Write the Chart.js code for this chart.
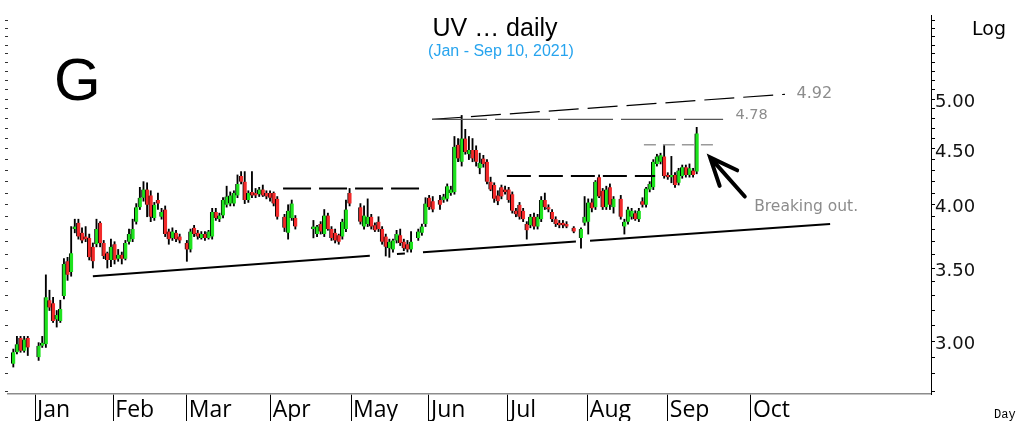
<!DOCTYPE html>
<html>
<head>
<meta charset="utf-8">
<title>UV daily</title>
<script src="https://cdn.jsdelivr.net/npm/chart.js@4.4.1/dist/chart.umd.min.js"></script>
<style>
  html, body { margin: 0; padding: 0; background: #fff; }
  #wrap { width: 1019px; height: 421px; position: relative; }
</style>
</head>
<body>
<div id="wrap"><canvas id="chart"></canvas></div>
<script>
// One slot per trading day, late Dec 2020 to Sep 10 2021 (null = no bar)
const opens = [
  2.86, 2.93, 3.02, 2.94, 3.02, null, null, 2.90, 2.97, 2.98,
  3.27, 3.25, 3.14, 3.13, 3.30, 3.55, 3.47, 3.80, 3.85, 3.77,
  3.74, 3.73, 3.66, 3.68, 3.85, 3.69, 3.61, 3.56, 3.68, 3.57,
  3.60, 3.57, 3.70, 3.72, 3.86, 3.98, 4.06, 4.13, 4.08, 3.89,
  4.04, 3.90, 3.96, 3.78, 3.73, 3.77, 3.74, null, 3.69, 3.64,
  3.81, 3.77, 3.73, 3.76, 3.73, 3.74, 3.94, 3.88, 3.91, 4.00,
  4.01, 4.01, 4.08, 4.25, 4.20, 4.04, 4.11, 4.10, 4.09, 4.13,
  4.10, 4.10, 4.10, 4.05, null, 3.90, 3.77, 3.89, 3.89, null,
  null, null, null, 3.80, 3.76, 3.84, 3.76, 3.91, 3.80, 3.77,
  3.75, 3.74, 3.80, 4.10, null, null, 3.98, 3.82, 3.84, 3.90,
  3.83, 3.86, 3.80, 3.74, 3.65, 3.64, 3.71, 3.75, 3.70, 3.68,
  3.64, null, 3.73, 3.77, 3.84, 4.06, 4.03, null, 4.04, 4.04,
  4.05, 4.10, 4.11, 4.54, 4.38, 4.60, 4.45, 4.49, 4.49, 4.32,
  4.41, 4.38, 4.20, 4.17, 4.08, 4.15, 4.13, 4.13, 4.09, 3.95,
  4.00, 3.95, 3.84, 3.83, 3.90, 3.82, 3.88, 4.04, 3.98, 3.94,
  3.88, 3.85, 3.85, 3.84, null, 3.81, null, 3.73, 3.85, 3.86,
  4.02, 3.98, 4.24, 4.12, 3.98, 4.15, 3.98, null, 4.05, 3.82,
  3.86, 3.90, 3.93, 3.88, 4.03, 4.00, 4.13, 4.15, 4.36, 4.38,
  4.43, 4.26, 4.24, 4.26, 4.19, 4.25, 4.33, 4.26, 4.30, 4.29
];
const highs = [
  2.95, 3.03, 3.03, 3.03, 3.03, null, null, 2.99, 3.03, 3.45,
  3.34, 3.29, 3.20, 3.27, 3.57, 3.58, 3.82, 3.88, 3.88, 3.81,
  3.82, 3.76, 3.69, 3.88, 3.86, 3.71, 3.62, 3.72, 3.70, 3.64,
  3.62, 3.71, 3.80, 3.88, 4.01, 4.15, 4.20, 4.19, 4.12, 4.02,
  4.10, 3.97, 3.99, 3.80, 3.81, 3.79, 3.76, null, 3.71, 3.80,
  3.83, 3.79, 3.78, 3.78, 3.79, 3.97, 3.97, 3.93, 4.06, 4.16,
  4.11, 4.12, 4.26, 4.29, 4.29, 4.12, 4.29, 4.14, 4.15, 4.17,
  4.12, 4.12, 4.11, 4.07, null, 3.92, 4.00, 4.04, 3.91, null,
  null, null, null, 3.87, 3.83, 3.86, 3.96, 3.93, 3.82, 3.80,
  3.76, 3.88, 4.04, 4.14, null, null, 4.01, 3.99, 4.05, 3.92,
  3.85, 3.90, 3.82, 3.76, 3.72, 3.72, 3.79, 3.80, 3.72, 3.71,
  3.78, null, 3.80, 3.84, 4.06, 4.08, 4.07, null, 4.08, 4.09,
  4.18, 4.16, 4.62, 4.60, 4.83, 4.69, 4.62, 4.60, 4.53, 4.46,
  4.44, 4.40, 4.24, 4.19, 4.12, 4.17, 4.16, 4.15, 4.11, 3.97,
  4.02, 3.97, 3.86, 3.92, 3.93, 3.92, 4.07, 4.10, 4.00, 3.96,
  3.90, 3.87, 3.87, 3.86, null, 3.82, null, 3.81, 4.07, 4.05,
  4.05, 4.21, 4.26, 4.14, 4.16, 4.18, 4.07, null, 4.08, 3.88,
  3.98, 3.97, 3.95, 3.97, 4.06, 4.15, 4.20, 4.40, 4.45, 4.46,
  4.54, 4.28, 4.43, 4.28, 4.32, 4.35, 4.35, 4.36, 4.32, 4.71
];
const lows = [
  2.84, 2.92, 2.93, 2.93, 2.91, null, null, 2.88, 2.96, 2.96,
  3.20, 3.12, 3.09, 3.12, 3.28, 3.41, 3.44, 3.77, 3.72, 3.69,
  3.70, 3.56, 3.50, 3.66, 3.66, 3.57, 3.50, 3.51, 3.53, 3.55,
  3.53, 3.56, 3.68, 3.70, 3.84, 3.96, 4.03, 3.90, 3.86, 3.87,
  3.96, 3.88, 3.74, 3.68, 3.71, 3.70, 3.69, null, 3.55, 3.62,
  3.74, 3.72, 3.72, 3.71, 3.72, 3.72, 3.87, 3.86, 3.89, 3.98,
  3.99, 3.99, 4.06, 4.18, 4.01, 4.02, 4.06, 4.06, 4.07, 4.07,
  4.05, 4.03, 3.99, 3.88, null, 3.78, 3.72, 3.87, 3.80, null,
  null, null, null, 3.73, 3.74, 3.76, 3.74, 3.79, 3.71, 3.69,
  3.68, 3.72, 3.78, 3.99, null, null, 3.84, 3.80, 3.82, 3.80,
  3.78, 3.78, 3.68, 3.59, 3.58, 3.62, 3.69, 3.67, 3.63, 3.62,
  3.62, null, 3.71, 3.75, 3.82, 3.96, 3.94, null, 3.96, 4.02,
  4.03, 4.08, 4.09, 4.38, 4.34, 4.45, 4.40, 4.38, 4.34, 4.27,
  4.33, 4.18, 4.12, 4.02, 4.00, 4.05, 4.09, 4.02, 3.93, 3.90,
  3.88, 3.86, 3.72, 3.81, 3.80, 3.80, 3.86, 3.96, 3.94, 3.86,
  3.82, 3.81, 3.81, 3.81, null, 3.77, null, 3.65, 3.83, 3.76,
  3.94, 3.96, 4.06, 3.96, 3.96, 3.96, 3.93, null, 3.88, 3.76,
  3.84, 3.88, 3.87, 3.86, 3.98, 3.98, 4.11, 4.13, 4.34, 4.36,
  4.23, 4.22, 4.19, 4.15, 4.17, 4.23, 4.24, 4.24, 4.24, 4.27
];
const closes = [
  2.93, 2.98, 2.94, 3.01, 2.96, null, null, 2.97, 2.99, 3.29,
  3.22, 3.13, 3.17, 3.21, 3.53, 3.45, 3.61, 3.82, 3.74, 3.71,
  3.72, 3.58, 3.55, 3.80, 3.69, 3.59, 3.56, 3.66, 3.56, 3.60,
  3.57, 3.69, 3.76, 3.80, 3.98, 4.06, 4.13, 4.00, 3.90, 4.00,
  4.01, 3.94, 3.76, 3.72, 3.78, 3.72, 3.71, null, 3.64, 3.78,
  3.76, 3.74, 3.76, 3.73, 3.78, 3.94, 3.89, 3.91, 4.04, 4.07,
  4.08, 4.10, 4.18, 4.20, 4.04, 4.10, 4.08, 4.08, 4.13, 4.08,
  4.07, 4.06, 4.01, 3.90, null, 3.81, 3.95, 4.01, 3.82, null,
  null, null, null, 3.82, 3.82, 3.78, 3.91, 3.80, 3.73, 3.71,
  3.70, 3.86, 3.96, 4.01, null, null, 3.86, 3.91, 3.90, 3.82,
  3.79, 3.80, 3.70, 3.66, 3.70, 3.71, 3.76, 3.69, 3.65, 3.64,
  3.70, null, 3.78, 3.82, 4.01, 3.98, 3.96, null, 4.00, 4.07,
  4.16, 4.13, 4.52, 4.41, 4.60, 4.47, 4.49, 4.41, 4.38, 4.37,
  4.36, 4.20, 4.13, 4.05, 4.03, 4.07, 4.11, 4.04, 3.95, 3.92,
  3.90, 3.88, 3.79, 3.90, 3.82, 3.90, 4.04, 3.98, 3.96, 3.88,
  3.84, 3.83, 3.83, 3.82, null, 3.78, null, 3.80, 3.90, 4.02,
  3.97, 4.20, 4.07, 3.98, 4.13, 4.00, 4.05, null, 3.90, 3.86,
  3.96, 3.95, 3.88, 3.95, 4.00, 4.14, 4.18, 4.38, 4.43, 4.44,
  4.25, 4.24, 4.26, 4.17, 4.30, 4.33, 4.26, 4.32, 4.26, 4.65
];

// month separators (in day slots) and their names
const monthTicks = [6.0, 27.65, 47.95, 71.2, 93.4, 114.95, 136.8, 158.9, 181.0, 204.0];
const monthLabels = ['Jan', 'Feb', 'Mar', 'Apr', 'May', 'Jun', 'Jul', 'Aug', 'Sep', 'Oct'];

// price axis (log)
const priceTicks = [2.7, 2.8, 2.9, 3.0, 3.1, 3.2, 3.3, 3.4, 3.5, 3.6, 3.7, 3.8, 3.9,
  4.0, 4.1, 4.2, 4.3, 4.4, 4.5, 4.6, 4.7, 4.8, 4.9, 5.0, 5.1, 5.2, 5.3, 5.4, 5.5,
  5.6, 5.7, 5.8, 5.9];
const priceLabels = [3.0, 3.5, 4.0, 4.5, 5.0];

// drawn lines as [slot, price]; null breaks the line
const supportLine = [[22.0, 3.44], [98.6, 3.591], null, [106.1, 3.605], [108.3, 3.609], null,
  [113.3, 3.619], [155.6, 3.701], null, [159.5, 3.708], [225.9, 3.841]];
const aprilTop = [[74.6, 4.14], [114.4, 4.14]];
const julyTop = [[136.5, 4.25], [177.5, 4.25]];
const augustTop = [[174.4, 4.54], [194.0, 4.54]];
const flatTarget = [[115.8, 4.79], [196.3, 4.79]];
const risingTarget = [[115.8, 4.79], [213.4, 5.05]];
const arrowFrom = [202.3, 4.07];
const arrowTo = [192.7, 4.42];

// text notes as [slot, price]
const noteHigh = [216.6, 5.05];
const noteFlat = [199.7, 4.83];
const noteBreak = [204.9, 3.985];

const titleText = 'UV \u2026 daily';
const subtitleText = '(Jan - Sep 10, 2021)';

const UP = '#1ee21e';
const DOWN = '#f22a2a';

const wickData = [];
const bodyData = [];
const bodyColors = [];
for (let i = 0; i < closes.length; i++) {
    if (closes[i] === null) continue;
    wickData.push({ x: i, y: [lows[i], highs[i]] });
    bodyData.push({ x: i, y: [Math.min(opens[i], closes[i]), Math.max(opens[i], closes[i])] });
    bodyColors.push(closes[i] >= opens[i] ? UP : DOWN);
}

function toPoints(line) {
    return line.map(p => p ? { x: p[0], y: p[1] } : { x: null, y: null });
}

function lineSet(line, color, width, dash) {
    return {
        type: 'line',
        data: toPoints(line),
        borderColor: color,
        borderWidth: width,
        borderDash: dash,
        pointRadius: 0,
        fill: false,
        spanGaps: false,
        tension: 0,
        order: 0
    };
}

const Y_MIN = 2.683;
const Y_MAX = 5.97;

const notesPlugin = {
    id: 'notes',
    afterDraw(chart) {
        const ctx = chart.ctx;
        const xs = chart.scales.x;
        const ys = chart.scales.y;
        const px = p => [xs.getPixelForValue(p[0]), ys.getPixelForValue(p[1])];
        ctx.save();

        ctx.fillStyle = '#000';
        ctx.textBaseline = 'alphabetic';
        ctx.textAlign = 'center';
        ctx.font = '25px "Liberation Sans", Arial, sans-serif';
        ctx.fillText(titleText, 495, 36);
        ctx.fillStyle = '#27a4ee';
        ctx.font = '16px "Liberation Sans", Arial, sans-serif';
        ctx.fillText(subtitleText, 501, 56);

        ctx.fillStyle = '#000';
        ctx.textAlign = 'left';
        ctx.font = '60px "Liberation Sans", Arial, sans-serif';
        ctx.fillText('G', 54, 100);
        ctx.font = '19px "DejaVu Sans", sans-serif';
        ctx.fillText('Log', 972, 35);
        ctx.font = '12px "Liberation Mono", monospace';
        ctx.fillText('Day', 994, 418);

        // value notes
        ctx.fillStyle = '#8c8c8c';
        ctx.textBaseline = 'middle';
        let p = px(noteHigh);
        ctx.font = '16px "DejaVu Sans", sans-serif';
        ctx.fillText('4.92', p[0], p[1]);
        p = px(noteFlat);
        ctx.font = '14.5px "DejaVu Sans", sans-serif';
        ctx.fillText('4.78', p[0], p[1]);
        p = px(noteBreak);
        ctx.font = '15.5px "DejaVu Sans", sans-serif';
        ctx.fillText('Breaking out.', p[0], p[1]);

        // arrow
        const a = px(arrowFrom);
        const b = px(arrowTo);
        const ang = Math.atan2(a[1] - b[1], a[0] - b[0]);
        const head = 30;
        const spread = 23 * Math.PI / 180;
        ctx.strokeStyle = '#000';
        ctx.lineWidth = 4;
        ctx.lineCap = 'round';
        ctx.beginPath();
        ctx.moveTo(a[0], a[1]);
        ctx.lineTo(b[0], b[1]);
        ctx.moveTo(b[0] + head * Math.cos(ang - spread), b[1] + head * Math.sin(ang - spread));
        ctx.lineTo(b[0], b[1]);
        ctx.lineTo(b[0] + head * Math.cos(ang + spread), b[1] + head * Math.sin(ang + spread));
        ctx.stroke();
        ctx.restore();
    }
};

const priceTickList = scale => {
    scale.ticks = priceTicks.map(v => ({ value: v }));
};

new Chart(document.getElementById('chart'), {
    type: 'bar',
    data: {
        datasets: [
            lineSet(supportLine, '#000', 2, []),
            lineSet(aprilTop, '#000', 2, [28, 8]),
            lineSet(julyTop, '#000', 2, [24, 8]),
            lineSet(augustTop, '#9a9a9a', 1.5, [12, 7]),
            lineSet(flatTarget, '#555', 1.2, [55, 8]),
            lineSet(risingTarget, '#000', 1.2, [30, 9]),
            {
                data: bodyData,
                backgroundColor: bodyColors,
                borderColor: '#000',
                borderWidth: { left: 1, right: 0, top: 0, bottom: 0 },
                borderSkipped: false,
                barThickness: 4,
                grouped: false,
                order: 1
            },
            {
                data: wickData,
                backgroundColor: '#000',
                barThickness: 1.2,
                grouped: false,
                order: 2
            }
        ]
    },
    options: {
        responsive: true,
        maintainAspectRatio: false,
        animation: false,
        layout: { padding: { top: 15, left: 0, right: 0, bottom: 0 } },
        plugins: {
            legend: { display: false },
            tooltip: { enabled: false },
            title: { display: false }
        },
        scales: {
            x: {
                type: 'linear',
                position: 'bottom',
                min: -1.47,
                max: 253.8,
                offset: false,
                afterBuildTicks: scale => {
                    scale.ticks = monthTicks.map(v => ({ value: v }));
                },
                afterFit: scale => { scale.height = 27; },
                ticks: {
                    autoSkip: false,
                    maxRotation: 0,
                    align: 'start',
                    labelOffset: 2,
                    padding: -25,
                    color: '#000',
                    font: { family: '"Open Sans", sans-serif', size: 23 },
                    callback: (value, index) => monthLabels[index]
                },
                grid: {
                    offset: false,
                    drawOnChartArea: false,
                    drawTicks: true,
                    tickLength: 28,
                    color: '#000'
                },
                border: { display: true, color: '#8c8c8c', width: 1.5 }
            },
            y: {
                type: 'logarithmic',
                position: 'right',
                min: Y_MIN,
                max: Y_MAX,
                afterBuildTicks: priceTickList,
                afterFit: scale => { scale.width = 88; },
                ticks: {
                    autoSkip: false,
                    padding: 0,
                    labelOffset: 3,
                    color: '#111',
                    font: { family: '"DejaVu Sans", sans-serif', size: 18 },
                    callback: value => priceLabels.some(l => Math.abs(l - value) < 1e-6) ? value.toFixed(2) : ''
                },
                grid: {
                    drawOnChartArea: false,
                    drawTicks: true,
                    tickLength: 4,
                    color: '#000'
                },
                border: { display: true, color: '#000', width: 1 }
            },
            yLeft: {
                type: 'logarithmic',
                position: 'left',
                min: Y_MIN,
                max: Y_MAX,
                afterBuildTicks: priceTickList,
                afterFit: scale => { scale.width = 8; },
                ticks: { display: false, autoSkip: false },
                grid: {
                    drawOnChartArea: false,
                    drawTicks: true,
                    tickLength: 3,
                    color: '#333'
                },
                border: { display: false }
            }
        }
    },
    plugins: [notesPlugin]
});
</script>
</body>
</html>
